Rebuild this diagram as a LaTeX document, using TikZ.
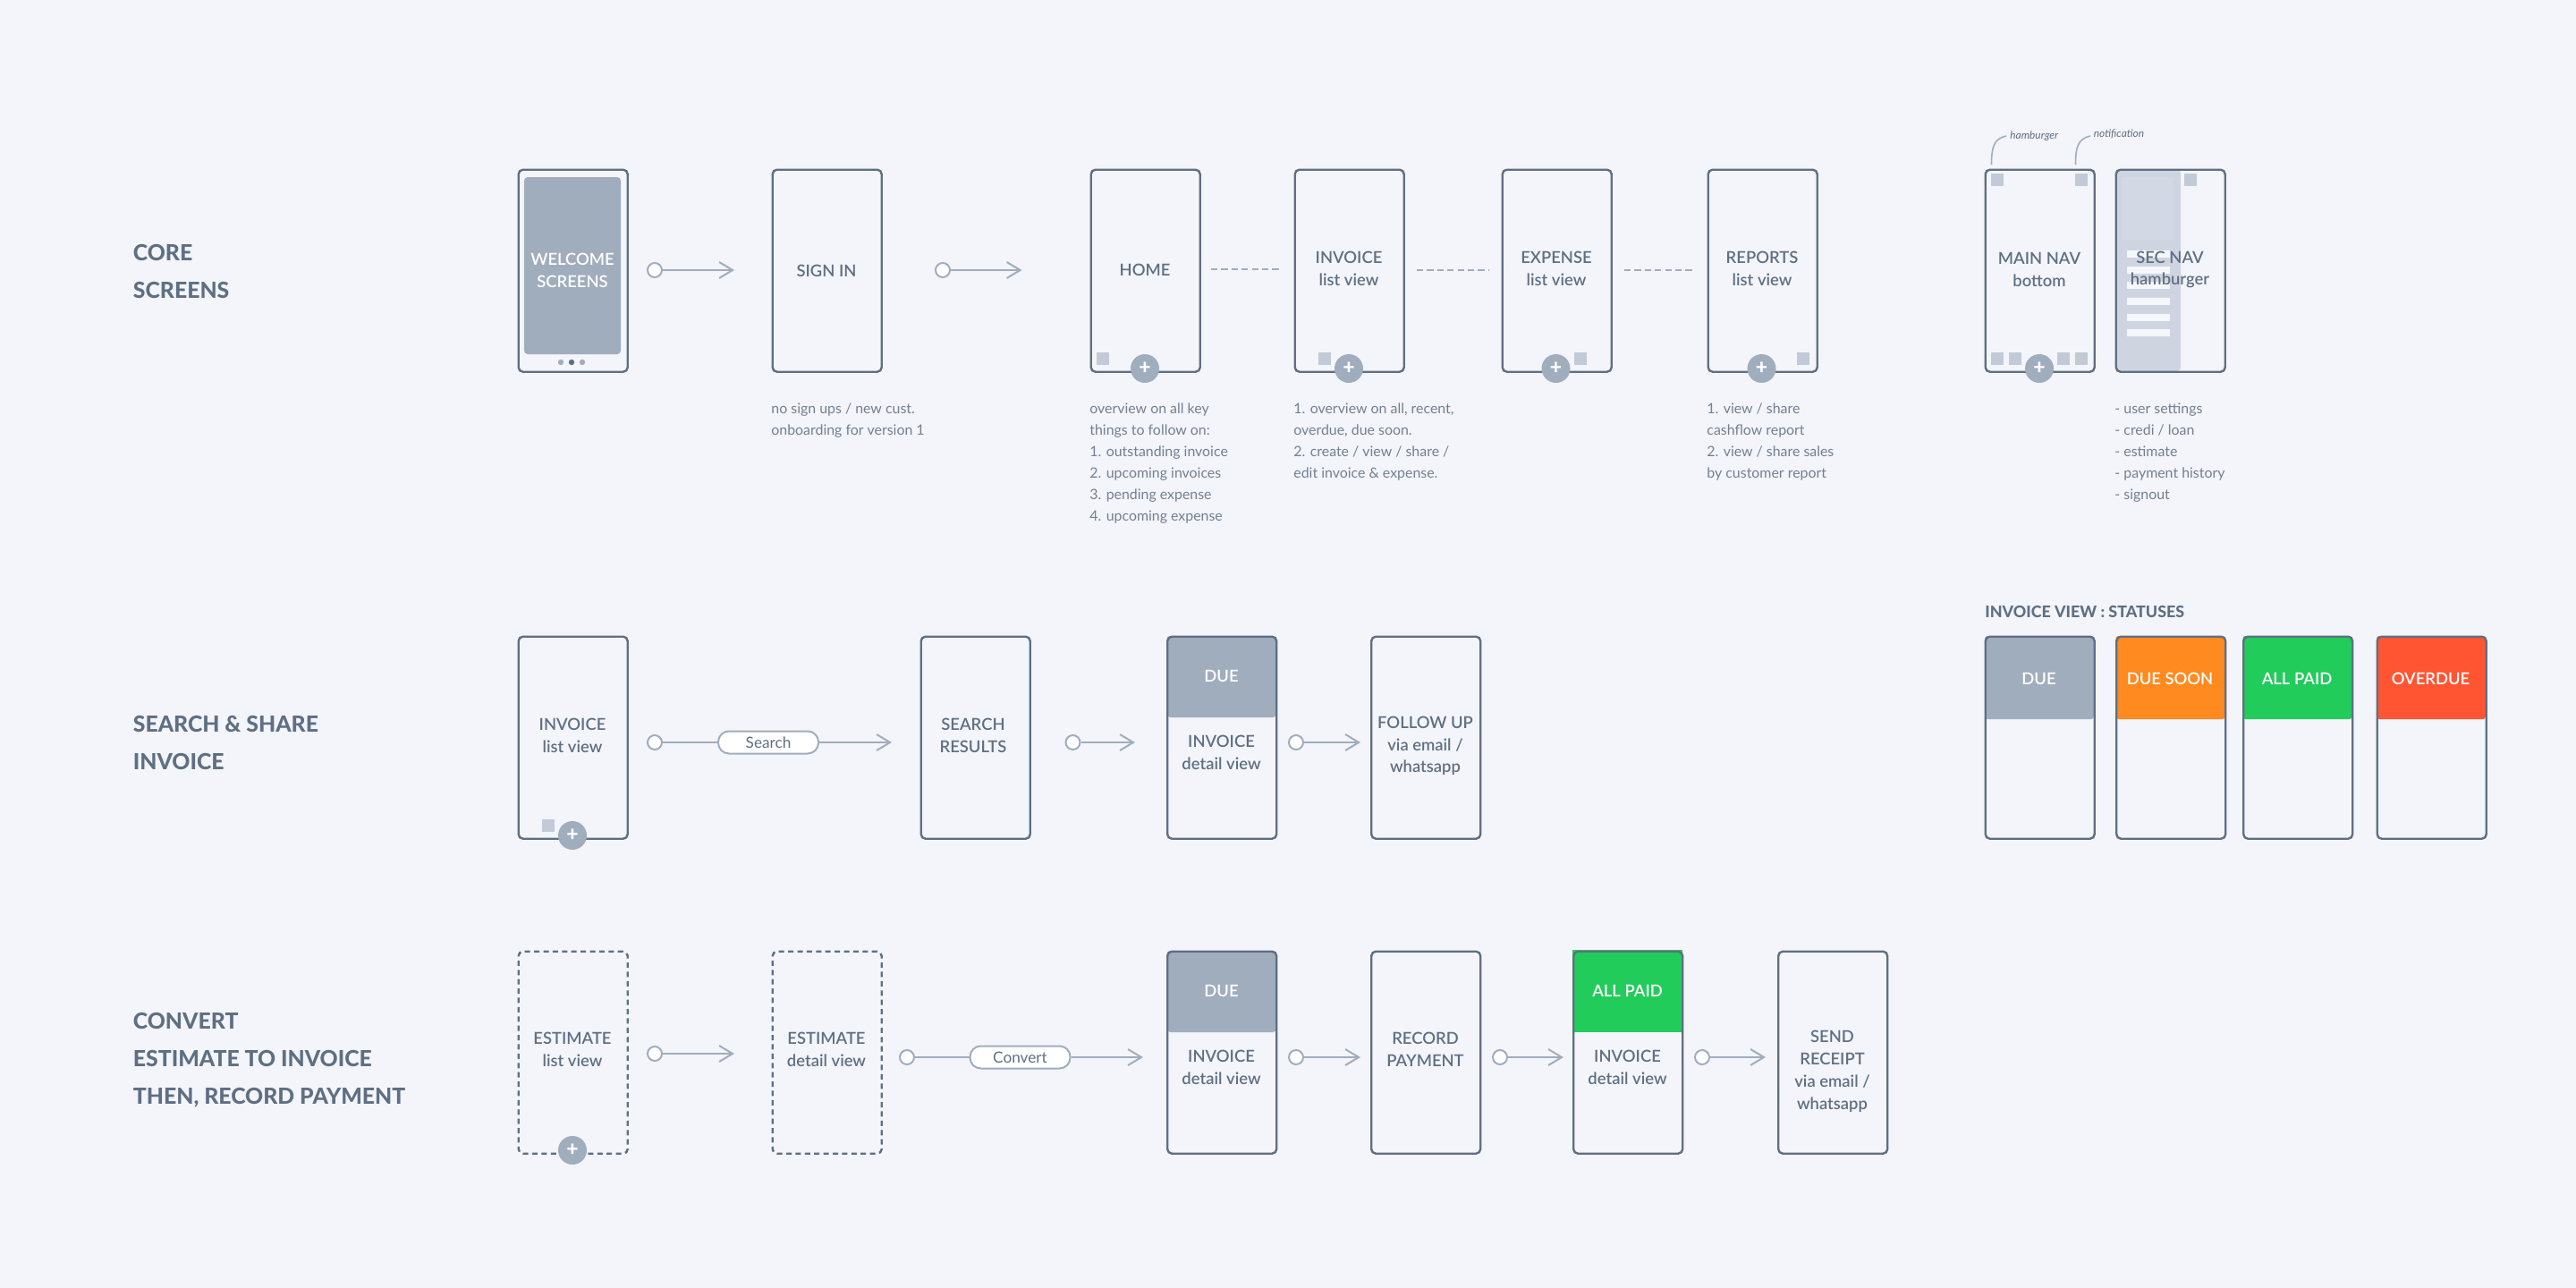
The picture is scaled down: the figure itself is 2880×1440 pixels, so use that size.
\documentclass[tikz,border=0pt]{standalone}
\usepackage{fontspec}
\setmainfont{Lato}
\newfontfamily\medf{Lato Semibold}
\newfontfamily\heavyf{Lato Heavy}
\usetikzlibrary{arrows.meta}
\definecolor{bgc}{HTML}{F3F5FA}
\definecolor{ink}{HTML}{5F6F83}
\definecolor{mute}{HTML}{A0ADBD}
\definecolor{sqc}{HTML}{C2CAD7}
\definecolor{panelc}{HTML}{CED5E0}
\definecolor{blockc}{HTML}{D3D9E4}
\definecolor{barc}{HTML}{F5F7FB}
\definecolor{orangec}{HTML}{FF8A1F}
\definecolor{greenc}{HTML}{22CC5B}
\definecolor{redc}{HTML}{FF5533}
\tikzset{
  x=0.5pt,y=-0.5pt,
  screen/.style={draw=ink,line width=1.2pt,rounded corners=2.5pt,minimum width=61pt,minimum height=113pt,inner sep=0pt,anchor=north west},
  dashscreen/.style={screen,dash pattern=on 3pt off 2.2pt},
  lbl/.style={anchor=center,align=center,font=\medf\fontsize{9.2}{12.4}\selectfont,text=ink,inner sep=0pt},
  wlbl/.style={lbl,text=white},
  start/.style={circle,draw=mute,line width=1pt,fill=white,minimum size=8pt,inner sep=0pt},
  flow/.style={draw=mute,line width=1pt,-{Straight Barb[length=7.5pt,width=9pt,line width=1pt]}},
  plain/.style={draw=mute,line width=1pt},
  dashlink/.style={draw=mute,line width=1pt,dash pattern=on 3.6pt off 2.1pt},
  pill/.style={draw=mute,line width=1pt,fill=white,rounded corners=6pt,minimum width=56pt,minimum height=12.5pt,inner sep=0pt,font=\fontsize{8.6}{10}\selectfont,text=ink},
  sq/.style={fill=sqc,minimum size=7pt,inner sep=0pt,anchor=north west},
  plusb/.style={circle,fill=mute,minimum size=16pt,inner sep=0pt,text=white,font=\heavyf\fontsize{11.5}{11.5}\selectfont},
  note/.style={anchor=north west,align=left,inner sep=0pt,font=\fontsize{7.95}{12}\selectfont,text=ink!88!white},
  grouplbl/.style={anchor=north west,align=left,inner sep=0pt,font=\heavyf\fontsize{12.4}{21}\selectfont,text=ink},
  tiny/.style={anchor=west,inner sep=0pt,font=\itshape\fontsize{5.95}{8}\selectfont,text=ink}
}
\begin{document}
\begin{tikzpicture}
\path[use as bounding box,fill=bgc] (0,0) rectangle (2880,1440);

% group labels
\node[grouplbl] (gcore) at (148.5,273) {CORE\\SCREENS};
\node[grouplbl] (gsearch) at (148.5,800) {SEARCH \& SHARE\\INVOICE};
\node[grouplbl] (gconv) at (148.5,1132) {CONVERT\\ESTIMATE TO INVOICE\\THEN, RECORD PAYMENT};

% ---- row 1
\fill[mute,rounded corners=2pt] (586,198) rectangle (694,396);
\node[screen] (welcome) at (578.5,188.5) {};
\node[wlbl] (welcomet) at (640,302.5) {WELCOME\\SCREENS};
\fill[mute] (627,405) circle (1.6pt) (651,405) circle (1.6pt);
\fill[ink] (639,405) circle (1.6pt);

\node[screen] (signin) at (862.5,188.5) {};
\node[lbl] (signint) at (924,303) {SIGN IN};
\node[screen] (home) at (1218.5,188.5) {};
\node[lbl] (homet) at (1280,302) {HOME};
\node[screen] (invl) at (1446.5,188.5) {};
\node[lbl] (invlt) at (1508,300) {INVOICE\\list view};
\node[screen] (expl) at (1678.5,188.5) {};
\node[lbl] (explt) at (1740,300) {EXPENSE\\list view};
\node[screen] (repl) at (1908.5,188.5) {};
\node[lbl] (replt) at (1970,300) {REPORTS\\list view};
\node[screen] (mainnav) at (2218.5,188.5) {};
\node[lbl] (mainnavt) at (2280,301.5) {MAIN NAV\\bottom};

\fill[panelc,rounded corners=2pt] (2365,189) -- (2365,415) -- (2438,415) -- (2438,189) -- cycle;
\fill[blockc] (2372,198) rectangle (2430,268);
\foreach \yy in {280,297.5,315,333,350.5,368} \fill[barc] (2378,\yy) rectangle (2426,\yy+8);
\node[sq] (secsq) at (2442,194) {};
\node[screen] (secnav) at (2364.5,188.5) {};
\node[lbl] (sect) at (2426,301.5) {SEC NAV\\hamburger};

% squares and plus buttons, row 1
\node[sq] (s1) at (1226,394) {};
\node[plusb] (p1) at (1280,412) {+};
\node[sq] (s2) at (1474,394) {};
\node[plusb] (p2) at (1508,412) {+};
\node[sq] (s3) at (1759.5,394) {};
\node[plusb] (p3) at (1739.5,412) {+};
\node[sq] (s4) at (2009,394) {};
\node[plusb] (p4) at (1969.5,412) {+};
\node[sq] (m1) at (2226,194) {};
\node[sq] (m2) at (2320,194) {};
\node[sq] (m3) at (2226,394) {};
\node[sq] (m4) at (2246,394) {};
\node[sq] (m5) at (2300,394) {};
\node[sq] (m6) at (2320,394) {};
\node[plusb] (p5) at (2280,412) {+};

% callouts
\node[tiny] (thamb) at (2247,152) {hamburger};
\node[tiny] (tnoti) at (2340.5,150) {notification};
\coordinate (chamb) at (2226.5,184);
\coordinate (cnoti) at (2320.5,184);
\coordinate (ehamb) at (2243,152);
\coordinate (enoti) at (2337,152);
\draw[mute,line width=0.8pt] (chamb) .. controls (2226.5,165) and (2229,155) .. (ehamb);
\draw[mute,line width=0.8pt] (cnoti) .. controls (2320.5,165) and (2323,155) .. (enoti);

% connectors row 1
\node[start] (a1) at (732,302) {};
\coordinate (a1e) at (821,302);
\draw[flow] (a1) -- (a1e);
\node[start] (a2) at (1054,302) {};
\coordinate (a2e) at (1142.5,302);
\draw[flow] (a2) -- (a2e);
\coordinate (d1a) at (1354,301);
\coordinate (d1b) at (1433,301);
\draw[dashlink] (d1a) -- (d1b);
\coordinate (d2a) at (1584,302);
\coordinate (d2b) at (1664,302);
\draw[dashlink] (d2a) -- (d2b);
\coordinate (d3a) at (1816,302);
\coordinate (d3b) at (1895,302);
\draw[dashlink] (d3a) -- (d3b);

% notes
\node[note] (n1) at (862,450) {no sign ups / new cust.\\onboarding for version 1};
\node[note] (n2) at (1218,450) {overview on all key\\things to follow on:\\1. outstanding invoice\\2. upcoming invoices\\3. pending expense\\4. upcoming expense};
\node[note] (n3) at (1446,450) {1. overview on all, recent,\\overdue, due soon.\\2. create / view / share /\\edit invoice \& expense.};
\node[note] (n4) at (1908,450) {1. view / share\\cashflow report\\2. view / share sales\\by customer report};
\node[note] (n5) at (2364,450) {- user settings\\- credi / loan\\- estimate\\- payment history\\- signout};

% ---- row 2
\node[screen] (r2a) at (578.5,710.5) {};
\node[lbl] (r2at) at (640,822) {INVOICE\\list view};
\node[sq] (r2s) at (606,916) {};
\node[plusb] (r2p) at (640,934) {+};
\node[screen] (r2b) at (1028.5,710.5) {};
\node[lbl] (r2bt) at (1088,822) {SEARCH\\RESULTS};
\fill[mute,rounded corners=2pt] (1304.5,711) -- (1304.5,802) -- (1427,802) -- (1427,711) -- cycle;
\node[screen] (r2c) at (1304,710.5) {};
\node[wlbl] (r2ch) at (1365.5,755.5) {DUE};
\node[lbl] (r2ct) at (1365.5,841.5) {INVOICE\\detail view};
\node[screen] (r2d) at (1532,710.5) {};
\node[lbl] (r2dt) at (1593.5,834) {FOLLOW UP\\via email /\\whatsapp};

\node[start] (b1) at (732,830) {};
\node[pill] (bp) at (859,830) {Search};
\coordinate (b1e) at (997,830);
\draw[plain] (b1) -- (bp);
\draw[flow] (bp) -- (b1e);
\node[start] (b2) at (1199.5,830) {};
\coordinate (b2e) at (1269,830);
\draw[flow] (b2) -- (b2e);
\node[start] (b3) at (1449,830) {};
\coordinate (b3e) at (1521,830);
\draw[flow] (b3) -- (b3e);

% statuses
\node[note,font=\heavyf\fontsize{8.95}{10}\selectfont,text=ink] (sthead) at (2219,677) {INVOICE VIEW : STATUSES};
\foreach \nm/\xx/\cc/\tt in {st1/2218.5/mute/DUE,st2/2365/orangec/DUE SOON,st3/2507/greenc/ALL PAID,st4/2656.5/redc/OVERDUE}{
  \fill[\cc,rounded corners=1.5pt] (\xx+0.5,711) -- (\xx+0.5,804) -- (\xx+122.5,804) -- (\xx+122.5,711) -- cycle;
  \node[screen] (\nm) at (\xx,710.5) {};
  \node[wlbl] (\nm t) at (\xx+61,759) {\tt};
}

% ---- row 3
\node[dashscreen] (r3a) at (578.5,1062.5) {};
\node[lbl] (r3at) at (640,1173.5) {ESTIMATE\\list view};
\node[plusb] (r3p) at (640,1286) {+};
\node[dashscreen] (r3b) at (862.5,1062.5) {};
\node[lbl] (r3bt) at (924,1173.5) {ESTIMATE\\detail view};
\fill[mute,rounded corners=2pt] (1304.5,1063) -- (1304.5,1154) -- (1427,1154) -- (1427,1063) -- cycle;
\node[screen] (r3c) at (1304,1062.5) {};
\node[wlbl] (r3ch) at (1365.5,1107.5) {DUE};
\node[lbl] (r3ct) at (1365.5,1193.5) {INVOICE\\detail view};
\node[screen] (r3d) at (1532,1062.5) {};
\node[lbl] (r3dt) at (1593.5,1173.5) {RECORD\\PAYMENT};
\fill[greenc] (1758,1062) rectangle (1881,1154);
\node[screen] (r3e) at (1758,1062.5) {};
\node[wlbl] (r3eh) at (1819.5,1107.5) {ALL PAID};
\node[lbl] (r3et) at (1819.5,1193.5) {INVOICE\\detail view};
\node[screen] (r3f) at (1987,1062.5) {};
\node[lbl] (r3ft) at (2048.5,1198) {SEND\\RECEIPT\\via email /\\whatsapp};

\node[start] (c1) at (732,1178) {};
\coordinate (c1e) at (821,1178);
\draw[flow] (c1) -- (c1e);
\node[start] (c2) at (1014,1182) {};
\node[pill] (cp) at (1140.5,1182) {Convert};
\coordinate (c2e) at (1278,1182);
\draw[plain] (c2) -- (cp);
\draw[flow] (cp) -- (c2e);
\node[start] (c3) at (1449,1182) {};
\coordinate (c3e) at (1521,1182);
\draw[flow] (c3) -- (c3e);
\node[start] (c4) at (1677,1182) {};
\coordinate (c4e) at (1748,1182);
\draw[flow] (c4) -- (c4e);
\node[start] (c5) at (1903,1182) {};
\coordinate (c5e) at (1974,1182);
\draw[flow] (c5) -- (c5e);
\end{tikzpicture}
\end{document}
